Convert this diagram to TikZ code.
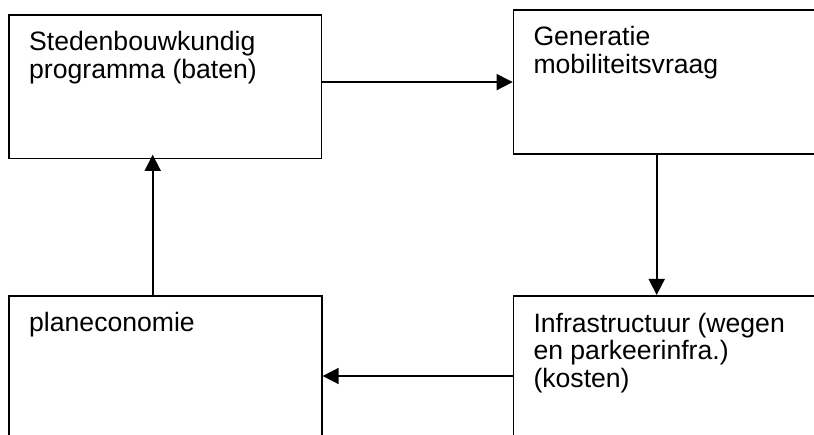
\documentclass[tikz,border=0pt]{standalone}
\usepackage{fontspec}
\setmainfont{Liberation Sans}
\usetikzlibrary{arrows.meta,calc}
\begin{document}
\begin{tikzpicture}[x=1pt,y=-1pt,
  box/.style={draw=black,line width=1.6pt,rectangle,inner sep=0pt,anchor=north west},
  txt/.style={inner sep=0pt,anchor=base west,align=left,font=\fontsize{26.6}{27.6}\selectfont},
  conn/.style={line width=1.6pt,-{Triangle[length=16pt,width=16pt]}}]
\useasboundingbox (0,0) rectangle (814,435);
\clip (0,0) rectangle (814,435);
\fill[white] (0,0) rectangle (814,435);
\node[box,minimum width=312.7pt,minimum height=143.7pt] (tl) at (8,14) {};
\node[box,minimum width=350pt,minimum height=144pt] (tr) at (512.7,9.3) {};
\node[box,minimum width=313pt,minimum height=200pt] (bl) at (8,295) {};
\node[box,minimum width=350pt,minimum height=200pt] (br) at (512.7,295) {};
% multi-line nodes: base anchor is the baseline of the last line
\node[txt] (tlt) at ($(tl.north west)+(21,64.3)$) {Stedenbouwkundig\\programma (baten)};
\node[txt] (trt) at ($(tr.north west)+(20.6,64.3)$) {Generatie\\mobiliteitsvraag};
\node[txt] (blt) at ($(bl.north west)+(21,36.7)$) {planeconomie};
\node[txt] (brt) at ($(br.north west)+(20.6,92.5)$) {Infrastructuur (wegen\\en parkeerinfra.)\\(kosten)};
\coordinate (c1) at ($(tr.south west)+(144,0)$);
\coordinate (c2) at ($(br.north west)+(0,81)$);
\coordinate (c3) at ($(bl.north west)+(144.7,0)$);
\draw[conn] (tr.west -| tl.east) -- (tr.west);
\draw[conn] (c1) -- (c1 |- br.north);
\draw[conn] (c2) -- (c2 -| bl.east);
\draw[conn,shorten >=-4.5pt] (c3) -- (c3 |- tl.south);
\end{tikzpicture}
\end{document}
